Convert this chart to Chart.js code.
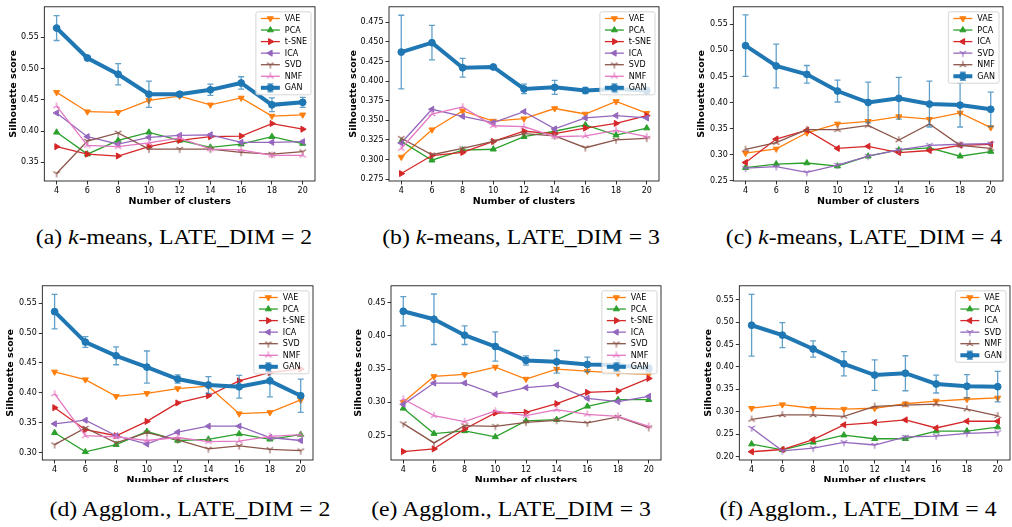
<!DOCTYPE html>
<html>
<head>
<meta charset="utf-8">
<script src="https://cdn.jsdelivr.net/npm/chart.js@4.4.0/dist/chart.umd.min.js"></script>
<style>
  body { margin: 0; background: #fff; width: 1012px; height: 527px; position: relative; overflow: hidden; }
  .panel { position: absolute; overflow: hidden; }
  .cap { position: absolute; font-family: 'Liberation Serif', serif; font-size: 21px; line-height: 1;
         white-space: nowrap; color: #000; transform: translateX(-50%) scaleX(1.13); }
</style>
</head>
<body>
<script>
'use strict';
const clusters = [4, 6, 8, 10, 12, 14, 16, 18, 20];

// (a) k-means, LATE_DIM = 2
const vaeA = [0.462, 0.431, 0.430, 0.449, 0.456, 0.442, 0.453, 0.424, 0.426];
const pcaA = [0.398, 0.363, 0.385, 0.398, 0.385, 0.374, 0.379, 0.391, 0.380];
const tsneA = [0.375, 0.363, 0.360, 0.375, 0.385, 0.391, 0.392, 0.412, 0.403];
const icaA = [0.429, 0.391, 0.379, 0.390, 0.393, 0.394, 0.382, 0.382, 0.383];
const svdA = [0.332, 0.384, 0.397, 0.371, 0.371, 0.371, 0.366, 0.363, 0.367];
const nmfA = [0.440, 0.377, 0.375, 0.381, 0.389, 0.371, 0.370, 0.361, 0.361];
const ganA = [0.565, 0.517, 0.491, 0.459, 0.459, 0.466, 0.477, 0.442, 0.446];
const ganErrA = [0.020, 0.003, 0.017, 0.021, 0.004, 0.009, 0.010, 0.011, 0.008];
const yTicksA = [0.35, 0.40, 0.45, 0.50, 0.55];

// (b) k-means, LATE_DIM = 3
const vaeB = [0.303, 0.338, 0.362, 0.349, 0.352, 0.365, 0.358, 0.374, 0.359];
const pcaB = [0.323, 0.299, 0.312, 0.313, 0.329, 0.336, 0.344, 0.331, 0.340];
const tsneB = [0.282, 0.305, 0.309, 0.323, 0.336, 0.333, 0.340, 0.346, 0.356];
const icaB = [0.321, 0.364, 0.355, 0.347, 0.361, 0.339, 0.353, 0.356, 0.353];
const svdB = [0.327, 0.306, 0.314, 0.323, 0.333, 0.330, 0.315, 0.325, 0.327];
const nmfB = [0.314, 0.358, 0.367, 0.343, 0.342, 0.329, 0.330, 0.337, 0.329];
const ganB = [0.437, 0.449, 0.417, 0.418, 0.390, 0.392, 0.388, 0.390, 0.388];
const ganErrB = [0.047, 0.022, 0.012, 0.001, 0.006, 0.009, 0.004, 0.005, 0.004];
const yTicksB = [0.275, 0.300, 0.325, 0.350, 0.375, 0.400, 0.425, 0.450, 0.475];

// (c) k-means, LATE_DIM = 4
const vaeC = [0.303, 0.311, 0.342, 0.359, 0.364, 0.373, 0.368, 0.380, 0.352];
const pcaC = [0.275, 0.282, 0.284, 0.278, 0.297, 0.309, 0.313, 0.297, 0.306];
const icaC = [0.285, 0.330, 0.347, 0.312, 0.316, 0.304, 0.308, 0.318, 0.320];
const svdC = [0.274, 0.277, 0.266, 0.280, 0.297, 0.309, 0.318, 0.320, 0.321];
const nmfC = [0.310, 0.323, 0.348, 0.348, 0.356, 0.328, 0.359, 0.318, 0.312];
const ganC = [0.509, 0.470, 0.454, 0.422, 0.400, 0.408, 0.397, 0.395, 0.387];
const ganErrC = [0.059, 0.042, 0.017, 0.021, 0.039, 0.040, 0.044, 0.042, 0.033];
const yTicksC = [0.25, 0.30, 0.35, 0.40, 0.45, 0.50, 0.55];

// (d) Agglom., LATE_DIM = 2
const vaeD = [0.435, 0.422, 0.394, 0.399, 0.407, 0.411, 0.365, 0.367, 0.388];
const pcaD = [0.333, 0.301, 0.313, 0.335, 0.320, 0.322, 0.331, 0.322, 0.330];
const tsneD = [0.375, 0.338, 0.328, 0.352, 0.383, 0.395, 0.420, 0.434, 0.440];
const icaD = [0.348, 0.354, 0.328, 0.314, 0.334, 0.344, 0.344, 0.325, 0.320];
const svdD = [0.313, 0.341, 0.316, 0.333, 0.321, 0.306, 0.311, 0.305, 0.303];
const nmfD = [0.398, 0.328, 0.326, 0.320, 0.325, 0.318, 0.319, 0.327, 0.330];
const ganD = [0.536, 0.485, 0.462, 0.443, 0.423, 0.413, 0.410, 0.420, 0.395];
const ganErrD = [0.029, 0.009, 0.015, 0.027, 0.007, 0.014, 0.019, 0.027, 0.028];
const yTicksD = [0.30, 0.35, 0.40, 0.45, 0.50, 0.55];

// (e) Agglom., LATE_DIM = 3
const vaeE = [0.300, 0.339, 0.342, 0.353, 0.335, 0.350, 0.347, 0.344, 0.342];
const pcaE = [0.291, 0.253, 0.257, 0.248, 0.272, 0.274, 0.294, 0.304, 0.304];
const tsneE = [0.226, 0.230, 0.260, 0.284, 0.285, 0.298, 0.315, 0.317, 0.336];
const icaE = [0.297, 0.329, 0.329, 0.312, 0.322, 0.326, 0.306, 0.301, 0.309];
const svdE = [0.268, 0.239, 0.265, 0.264, 0.270, 0.273, 0.269, 0.278, 0.262];
const nmfE = [0.305, 0.280, 0.271, 0.287, 0.280, 0.289, 0.282, 0.279, 0.264];
const ganE = [0.437, 0.425, 0.401, 0.384, 0.363, 0.361, 0.357, 0.356, 0.351];
const ganErrE = [0.022, 0.038, 0.014, 0.022, 0.007, 0.017, 0.011, 0.008, 0.005];
const yTicksE = [0.25, 0.30, 0.35, 0.40, 0.45];

// (f) Agglom., LATE_DIM = 4
const vaeF = [0.308, 0.316, 0.308, 0.306, 0.308, 0.318, 0.324, 0.328, 0.331];
const pcaF = [0.228, 0.215, 0.232, 0.248, 0.240, 0.240, 0.257, 0.257, 0.266];
const icaF = [0.211, 0.216, 0.238, 0.271, 0.276, 0.282, 0.264, 0.279, 0.279];
const svdF = [0.264, 0.213, 0.219, 0.232, 0.226, 0.244, 0.246, 0.252, 0.254];
const nmfF = [0.283, 0.293, 0.293, 0.290, 0.312, 0.315, 0.317, 0.306, 0.291];
const ganF = [0.493, 0.471, 0.440, 0.407, 0.382, 0.386, 0.362, 0.357, 0.356];
const ganErrF = [0.069, 0.028, 0.018, 0.027, 0.034, 0.039, 0.020, 0.026, 0.034];
const yTicksF = [0.20, 0.25, 0.30, 0.35, 0.40, 0.45, 0.50, 0.55];

const tab10 = ['#1f77b4', '#ff7f0e', '#2ca02c', '#d62728', '#9467bd', '#8c564b', '#e377c2'];
const FONT = 'DejaVu Sans';

// matplotlib '1' / '2' markers (tri_down / tri_up)
function triMarker(color, down) {
    let c = document.createElement('canvas');
    c.width = 10; c.height = 10;
    let g = c.getContext('2d');
    g.strokeStyle = color;
    g.lineWidth = 1.1;
    let L = 3.8, s = down ? 1 : -1;
    g.beginPath();
    [[0, L * s], [-0.866 * L, -0.5 * L * s], [0.866 * L, -0.5 * L * s]].forEach(p => {
        g.moveTo(5, 5);
        g.lineTo(5 + p[0], 5 + p[1]);
    });
    g.stroke();
    return c;
}

const marks = {
    'VAE': {style: () => 'triangle', rot: 180},
    'PCA': {style: () => 'triangle', rot: 0},
    't-SNE': {style: () => 'triangle', rot: 90},
    'ICA': {style: () => 'triangle', rot: 270},
    'SVD': {style: c => triMarker(c, true), rot: 0},
    'NMF': {style: c => triMarker(c, false), rot: 0},
};

const panels = [
    {series: [['VAE', vaeA], ['PCA', pcaA], ['t-SNE', tsneA], ['ICA', icaA], ['SVD', svdA], ['NMF', nmfA]],
     gan: ganA, err: ganErrA, yMin: 0.320, yMax: 0.599, yTicks: yTicksA, dec: 2,
     box: {l: 44.3, r: 315.3, t: 5, b: 181, tx: 13.3},
     cap: '(a) <i>k</i>-means, LATE_DIM = 2', capX: 174, capY: 245},
    {series: [['VAE', vaeB], ['PCA', pcaB], ['t-SNE', tsneB], ['ICA', icaB], ['SVD', svdB], ['NMF', nmfB]],
     gan: ganB, err: ganErrB, yMin: 0.2725, yMax: 0.4948, yTicks: yTicksB, dec: 3,
     box: {l: 389, r: 659, t: 5, b: 181, tx: 354},
     cap: '(b) <i>k</i>-means, LATE_DIM = 3', capX: 521, capY: 245},
    {series: [['VAE', vaeC], ['PCA', pcaC], ['ICA', icaC], ['SVD', svdC], ['NMF', nmfC]],
     gan: ganC, err: ganErrC, yMin: 0.2495, yMax: 0.5835, yTicks: yTicksC, dec: 2,
     box: {l: 733.3, r: 1003.3, t: 5, b: 181, tx: 701.7},
     cap: '(c) <i>k</i>-means, LATE_DIM = 4', capX: 864, capY: 245},
    {series: [['VAE', vaeD], ['PCA', pcaD], ['t-SNE', tsneD], ['ICA', icaD], ['SVD', svdD], ['NMF', nmfD]],
     gan: ganD, err: ganErrD, yMin: 0.2873, yMax: 0.5793, yTicks: yTicksD, dec: 2,
     box: {l: 42.3, r: 313.3, t: 284, b: 460, tx: 11}, clip: 482,
     cap: '(d) Agglom., LATE_DIM = 2', capX: 190, capY: 517},
    {series: [['VAE', vaeE], ['PCA', pcaE], ['t-SNE', tsneE], ['ICA', icaE], ['SVD', svdE], ['NMF', nmfE]],
     gan: ganE, err: ganErrE, yMin: 0.2133, yMax: 0.4753, yTicks: yTicksE, dec: 2,
     box: {l: 391, r: 661, t: 284, b: 460, tx: 358.5}, clip: 482,
     cap: '(e) Agglom., LATE_DIM = 3', capX: 511, capY: 517},
    {series: [['VAE', vaeF], ['PCA', pcaF], ['ICA', icaF], ['SVD', svdF], ['NMF', nmfF]],
     gan: ganF, err: ganErrF, yMin: 0.1926, yMax: 0.5809, yTicks: yTicksF, dec: 2,
     box: {l: 739.3, r: 1010, t: 284, b: 460, tx: 708.3}, clip: 482,
     cap: '(f) Agglom., LATE_DIM = 4', capX: 858, capY: 517},
];

function drawErrBar(ctx, x, y1, y2, cap) {
    ctx.beginPath();
    ctx.moveTo(x, y1); ctx.lineTo(x, y2);
    ctx.moveTo(x - cap, y1); ctx.lineTo(x + cap, y1);
    ctx.moveTo(x - cap, y2); ctx.lineTo(x + cap, y2);
    ctx.stroke();
}

function buildChart(p) {
    let left = Math.round(p.box.tx - 6.7);
    let top = p.box.t - 5;
    let w = Math.round(p.box.r - left) + 6;
    let h = Math.round(p.box.b + 31 - top);

    let wrap = document.createElement('div');
    wrap.className = 'panel';
    wrap.style.left = left + 'px';
    wrap.style.top = top + 'px';
    wrap.style.width = w + 'px';
    wrap.style.height = (p.clip ? p.clip - top : h) + 'px';
    let cv = document.createElement('canvas');
    cv.width = w; cv.height = h;
    cv.style.width = w + 'px'; cv.style.height = h + 'px';
    wrap.appendChild(cv);
    document.body.appendChild(wrap);

    let datasets = p.series.map(([name, vals], i) => {
        let col = tab10[i + 1];
        return {
            label: name,
            data: clusters.map((c, j) => ({x: c, y: vals[j]})),
            borderColor: col,
            backgroundColor: col,
            borderWidth: 1.3,
            pointStyle: marks[name].style(col),
            pointRotation: marks[name].rot,
            pointRadius: 3.5,
            pointBorderWidth: 1,
            order: 10 - i,
        };
    });
    let ganIdx = datasets.length;
    datasets.push({
        label: 'GAN',
        data: clusters.map((c, j) => ({x: c, y: p.gan[j]})),
        borderColor: tab10[0],
        backgroundColor: tab10[0],
        borderWidth: 4,
        pointStyle: 'circle',
        pointRadius: 3.4,
        pointBorderWidth: 1,
        order: 0,
    });

    const deco = {
        id: 'deco',
        beforeDatasetDraw(chart, args) {
            if (args.index !== ganIdx) return;
            let ctx = chart.ctx, xs = chart.scales.x, ys = chart.scales.y;
            ctx.save();
            ctx.strokeStyle = 'rgba(31,119,180,0.7)';
            ctx.lineWidth = 1.3;
            p.gan.forEach((v, j) => {
                let x = xs.getPixelForValue(clusters[j]);
                drawErrBar(ctx, x, ys.getPixelForValue(v + p.err[j]), ys.getPixelForValue(v - p.err[j]), 3);
            });
            ctx.restore();
        },
        afterDraw(chart) {
            let ctx = chart.ctx, a = chart.chartArea;
            ctx.save();
            // axes box
            ctx.strokeStyle = '#000';
            ctx.lineWidth = 0.8;
            ctx.strokeRect(a.left, a.top, a.right - a.left, a.bottom - a.top);

            // legend inside, upper right
            ctx.font = '8px "' + FONT + '"';
            let items = chart.data.datasets;
            let maxW = Math.max(...items.map(d => ctx.measureText(d.label).width));
            let bw = 29 + maxW + 4;
            let rowH = 11.55;
            let bh = 6.7 + (items.length - 1) * rowH + 7;
            let x0 = a.right - 4 - bw, y0 = a.top + 5;
            ctx.fillStyle = 'rgba(255,255,255,0.8)';
            ctx.strokeStyle = '#cccccc';
            ctx.beginPath();
            ctx.roundRect(x0, y0, bw, bh, 2);
            ctx.fill();
            ctx.stroke();
            items.forEach((d, i) => {
                let yy = y0 + 6.7 + i * rowH;
                let cx = x0 + 14.5;
                ctx.strokeStyle = d.borderColor;
                ctx.fillStyle = d.backgroundColor;
                if (d.label === 'GAN') {
                    ctx.lineWidth = 1.3;
                    ctx.strokeStyle = 'rgba(31,119,180,0.7)';
                    drawErrBar(ctx, cx, yy - 4, yy + 4, 3);
                    ctx.strokeStyle = d.borderColor;
                }
                ctx.lineWidth = d.borderWidth;
                ctx.beginPath();
                ctx.moveTo(x0 + 5, yy);
                ctx.lineTo(x0 + 24, yy);
                ctx.stroke();
                ctx.lineWidth = 1;
                Chart.helpers.drawPoint(ctx, {
                    pointStyle: d.pointStyle, rotation: d.pointRotation || 0,
                    radius: d.pointRadius, borderWidth: 1
                }, cx, yy);
                ctx.fillStyle = '#000';
                ctx.textAlign = 'left';
                ctx.textBaseline = 'middle';
                ctx.fillText(d.label, x0 + 29, yy + 0.5);
            });
            ctx.restore();
        }
    };

    const tickFont = {family: FONT, size: 8};
    const titleFont = {family: FONT, size: 9.5, weight: 'bold'};
    const tickGrid = {display: true, drawOnChartArea: false, drawTicks: true, tickLength: 3.5, color: '#000', lineWidth: 0.8};

    new Chart(cv.getContext('2d'), {
        type: 'line',
        data: {datasets: datasets},
        options: {
            responsive: false,
            animation: false,
            devicePixelRatio: 1,
            layout: {padding: {left: 0, top: 5, right: 6, bottom: 0}},
            plugins: {legend: {display: false}, tooltip: {enabled: false}},
            elements: {line: {tension: 0}},
            scales: {
                x: {
                    type: 'linear',
                    min: 3.2,
                    max: 20.8,
                    afterBuildTicks: s => { s.ticks = clusters.map(v => ({value: v})); },
                    afterFit: s => { s.height = 31; },
                    grid: tickGrid,
                    border: {display: false},
                    ticks: {color: '#000', font: tickFont, padding: 2, maxRotation: 0, autoSkip: false},
                    title: {display: true, text: 'Number of clusters', color: '#000', font: titleFont,
                            padding: {top: 0, bottom: 4.6}}
                },
                y: {
                    type: 'linear',
                    min: p.yMin,
                    max: p.yMax,
                    afterBuildTicks: s => { s.ticks = p.yTicks.map(v => ({value: v})); },
                    afterFit: s => { s.width = p.box.l - left; },
                    grid: tickGrid,
                    border: {display: false},
                    ticks: {color: '#000', font: tickFont, padding: 2, autoSkip: false,
                            callback: v => v.toFixed(p.dec)},
                    title: {display: true, text: 'Silhouette score', color: '#000', font: titleFont,
                            padding: {top: p.box.tx - left - 5.7, bottom: 0}}
                }
            }
        },
        plugins: [deco]
    });

    let cap = document.createElement('div');
    cap.className = 'cap';
    cap.innerHTML = p.cap;
    cap.style.left = p.capX + 'px';
    cap.style.top = (p.capY - 17.6) + 'px';
    document.body.appendChild(cap);
}

panels.forEach(buildChart);
</script>
</body>
</html>
